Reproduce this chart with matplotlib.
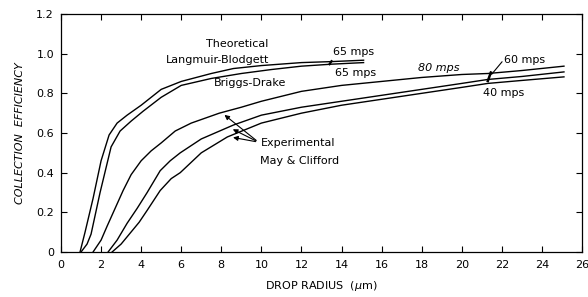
import matplotlib
matplotlib.use("Agg")
import matplotlib.pyplot as plt

# theoretical curves (65 mps)
lb_x = [0.95, 1.2, 1.6, 2.0, 2.4, 2.8, 3.3, 4.0, 5.0, 6.0, 7.5, 8.6, 10.0, 12.0, 13.5, 15.1]
lb_y = [0.0, 0.10, 0.27, 0.46, 0.59, 0.65, 0.69, 0.74, 0.82, 0.86, 0.90, 0.925, 0.94, 0.955, 0.96, 0.967]

bd_x = [1.0, 1.3, 1.5, 1.95, 2.5, 2.95, 3.5, 4.1, 5.0, 6.0, 7.5, 9.0, 10.5, 12.0, 13.5, 15.1]
bd_y = [0.0, 0.04, 0.09, 0.30, 0.53, 0.61, 0.66, 0.71, 0.78, 0.84, 0.875, 0.90, 0.92, 0.937, 0.947, 0.955]

# experimental curves, May & Clifford
e80_x = [1.6, 2.0, 2.3, 2.7, 3.1, 3.5, 4.0, 4.5, 5.0, 5.7, 6.5, 7.9, 9.0, 10.0, 12.0, 14.0, 16.0, 18.0, 20.0, 21.3, 23.0, 25.1]
e80_y = [0.0, 0.06, 0.13, 0.22, 0.31, 0.39, 0.46, 0.51, 0.55, 0.61, 0.65, 0.70, 0.73, 0.76, 0.81, 0.84, 0.86, 0.88, 0.895, 0.90, 0.915, 0.937]

e60_x = [2.35, 2.8, 3.3, 3.8, 4.3, 4.95, 5.45, 5.95, 7.0, 8.6, 10.0, 12.0, 14.0, 16.0, 18.0, 20.0, 21.3, 23.0, 25.1]
e60_y = [0.0, 0.06, 0.145, 0.22, 0.30, 0.41, 0.46, 0.50, 0.57, 0.64, 0.69, 0.73, 0.76, 0.79, 0.82, 0.85, 0.87, 0.885, 0.908]

e40_x = [2.55, 3.0, 3.45, 3.9, 4.3, 4.95, 5.5, 5.95, 7.0, 8.3, 10.0, 12.0, 14.0, 16.0, 18.0, 20.0, 21.3, 23.0, 25.1]
e40_y = [0.0, 0.04, 0.095, 0.15, 0.21, 0.31, 0.37, 0.40, 0.50, 0.58, 0.65, 0.70, 0.74, 0.77, 0.80, 0.83, 0.85, 0.865, 0.883]

x_ticks = list(range(0, 27, 2))
y_ticks = [0, 0.2, 0.4, 0.6, 0.8, 1.0, 1.2]
y_labels = ["0", "0.2", "0.4", "0.6", "0.8", "1.0", "1.2"]

plt.rcParams["font.family"] = "DejaVu Sans"

fig = plt.figure(figsize=(5.88, 2.97), dpi=100)
ax = fig.add_axes([61 / 588, 45 / 297, 521 / 588, 238 / 297])

for xs, ys in [(lb_x, lb_y), (bd_x, bd_y), (e80_x, e80_y), (e60_x, e60_y), (e40_x, e40_y)]:
    ax.plot(xs, ys, color="black", lw=1.0)

ax.set_xlim(0, 26)
ax.set_ylim(0, 1.2)
ax.set_xticks(x_ticks)
ax.set_xticklabels([str(t) for t in x_ticks], fontsize=8)
ax.set_yticks(y_ticks)
ax.set_yticklabels(y_labels, fontsize=8)
ax.tick_params(direction="in", length=4, width=0.8, top=True, right=True,
               labelsize=8, pad=5)
ax.tick_params(axis="x", pad=6)
for s in ax.spines.values():
    s.set_linewidth(0.9)

ax.set_xlabel("DROP RADIUS  ($\\mu$m)", fontsize=8, labelpad=6)
ax.set_ylabel("COLLECTION  EFFICIENCY", fontsize=8, style="italic", labelpad=8)

# curve labels
ax.text(8.8, 1.05, "Theoretical", fontsize=8, ha="center", va="center")
ax.text(7.8, 0.97, "Langmuir-Blodgett", fontsize=8, ha="center", va="center")
ax.text(9.45, 0.85, "Briggs-Drake", fontsize=8, ha="center", va="center")
ax.text(14.6, 1.01, "65 mps", fontsize=8, ha="center", va="center")
ax.text(14.7, 0.90, "65 mps", fontsize=8, ha="center", va="center")
ax.text(18.85, 0.93, "80 mps", fontsize=8, ha="center", va="center", style="italic")
ax.text(22.1, 0.97, "60 mps", fontsize=8, ha="left", va="center")
ax.text(22.1, 0.80, "40 mps", fontsize=8, ha="center", va="center")
ax.text(9.95, 0.55, "Experimental", fontsize=8, ha="left", va="center")
ax.text(9.95, 0.46, "May & Clifford", fontsize=8, ha="left", va="center")

# small marks and leaders
ax.plot([13.4, 13.5], [0.947, 0.962], color="black", lw=1.6)
ax.plot([21.3, 21.45], [0.862, 0.905], color="black", lw=1.8)
ax.annotate("", xy=(21.4, 0.885), xytext=(22.1, 0.97),
            arrowprops=dict(arrowstyle="-", color="black", lw=0.8))
for tx, ty in [(8.05, 0.70), (8.45, 0.625), (8.45, 0.58)]:
    ax.annotate("", xy=(tx, ty), xytext=(9.85, 0.554),
                arrowprops=dict(arrowstyle="-|>", color="black", lw=0.8,
                                mutation_scale=7))

fig.savefig("out.png", dpi=100)
